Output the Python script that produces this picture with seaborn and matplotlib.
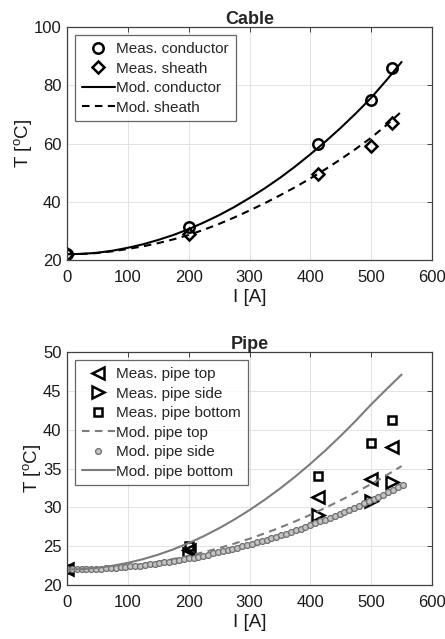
import numpy as np
import pandas as pd
import seaborn as sns
import matplotlib
matplotlib.use("Agg")
import matplotlib.pyplot as plt

# ---- Cable: measurements ----
meas_current = [0, 200, 412, 500, 535]
meas_conductor = [22.0, 31.5, 60.0, 75.0, 86.0]
meas_sheath = [22.0, 29.0, 49.5, 59.3, 67.0]

# ---- Model curves (current grid) ----
mod_current = [0, 25, 50, 75, 100, 125, 150, 175, 200, 225, 250, 275, 300,
               325, 350, 375, 400, 425, 450, 475, 500, 525, 550]
mod_conductor = [22.0, 22.1, 22.5, 23.2, 24.2, 25.4, 26.9, 28.6, 30.6, 32.9,
                 35.4, 38.2, 41.3, 44.6, 48.2, 52.1, 56.3, 60.7, 65.4, 70.4,
                 75.7, 81.7, 88.0]
mod_sheath = [22.0, 22.1, 22.4, 23.0, 23.8, 24.7, 25.8, 27.1, 28.6, 30.4,
              32.4, 34.6, 37.0, 39.5, 42.2, 45.0, 48.0, 51.2, 54.6, 58.2,
              62.0, 66.3, 71.0]

# ---- Pipe: measurements ----
meas_pipe_top = [22.0, 24.5, 31.3, 33.7, 37.8]
meas_pipe_side = [22.0, 24.0, 29.0, 30.8, 33.3]
meas_pipe_bottom = [22.0, 25.0, 34.0, 38.3, 41.3]

# ---- Pipe: model curves ----
mod_pipe_top = [22.0, 22.03, 22.11, 22.25, 22.44, 22.69, 22.99, 23.35, 23.76,
                24.23, 24.75, 25.33, 25.96, 26.65, 27.39, 28.19, 29.04, 29.95,
                30.91, 31.93, 33.00, 34.13, 35.31]
mod_pipe_bottom = [22.0, 22.05, 22.21, 22.48, 22.85, 23.33, 23.91, 24.60, 25.40,
                   26.30, 27.31, 28.43, 29.65, 30.98, 32.41, 33.95, 35.60, 37.35,
                   39.21, 41.18, 43.25, 45.20, 47.10]
side_current = [0, 8, 16, 24, 32, 40, 48, 56, 64, 72, 80, 88, 96, 104, 112, 120,
                128, 136, 144, 152, 160, 168, 176, 184, 192, 200, 208, 216, 224,
                232, 240, 248, 256, 264, 272, 280, 288, 296, 304, 312, 320, 328,
                336, 344, 352, 360, 368, 376, 384, 392, 400, 408, 416, 424, 432,
                440, 448, 456, 464, 472, 480, 488, 496, 504, 512, 520, 528, 536,
                544, 552]
mod_pipe_side = [22.00, 22.00, 22.01, 22.02, 22.04, 22.06, 22.08, 22.11, 22.15,
                 22.19, 22.23, 22.28, 22.33, 22.39, 22.45, 22.51, 22.58, 22.66,
                 22.74, 22.82, 22.91, 23.01, 23.11, 23.21, 23.32, 23.43, 23.54,
                 23.67, 23.79, 23.92, 24.06, 24.20, 24.34, 24.49, 24.64, 24.80,
                 24.96, 25.13, 25.30, 25.48, 25.66, 25.84, 26.03, 26.22, 26.42,
                 26.63, 26.83, 27.05, 27.26, 27.49, 27.71, 27.94, 28.18, 28.42,
                 28.66, 28.91, 29.16, 29.42, 29.69, 29.95, 30.23, 30.50, 30.78,
                 31.07, 31.36, 31.65, 31.95, 32.26, 32.57, 32.88]

x_ticks = [0, 100, 200, 300, 400, 500, 600]
cable_yticks = [20, 40, 60, 80, 100]
pipe_yticks = [20, 25, 30, 35, 40, 45, 50]

sns.set_style("white")
plt.rcParams["font.family"] = ["Liberation Sans", "DejaVu Sans"]
plt.rcParams["mathtext.fontset"] = "custom"
plt.rcParams["mathtext.rm"] = "Liberation Sans"
plt.rcParams["mathtext.it"] = "Liberation Sans:italic"

GRAY = "#7c7c7c"
AXC = "#404040"
DASH = (0, (3.6, 2.6))

fig = plt.figure(figsize=(4.45, 6.39), dpi=100)
ax1 = fig.add_axes([0.1506, 0.5931, 0.8202, 0.3646])
ax2 = fig.add_axes([0.1506, 0.0845, 0.8202, 0.3646])

cable_meas = pd.DataFrame({"I": meas_current, "cond": meas_conductor, "sheath": meas_sheath})
cable_mod = pd.DataFrame({"I": mod_current, "cond": mod_conductor, "sheath": mod_sheath})
pipe_meas = pd.DataFrame({"I": meas_current, "top": meas_pipe_top,
                          "side": meas_pipe_side, "bottom": meas_pipe_bottom})
pipe_mod = pd.DataFrame({"I": mod_current, "top": mod_pipe_top, "bottom": mod_pipe_bottom})
pipe_side = pd.DataFrame({"I": side_current, "side": mod_pipe_side})

open_marker = dict(linestyle="", markerfacecolor="none", markeredgecolor="black",
                   markeredgewidth=1.8, color="black")

# Cable panel
sns.lineplot(data=cable_meas, x="I", y="cond", ax=ax1, marker="o", markersize=7.5,
             label="Meas. conductor", **open_marker)
sns.lineplot(data=cable_meas, x="I", y="sheath", ax=ax1, marker="D", markersize=6,
             label="Meas. sheath", **open_marker)
sns.lineplot(data=cable_mod, x="I", y="cond", ax=ax1, color="black", linewidth=1.5,
             label="Mod. conductor")
sns.lineplot(data=cable_mod, x="I", y="sheath", ax=ax1, color="black", linewidth=1.5,
             dashes=False, linestyle=DASH, label="Mod. sheath")

# Pipe panel
sns.lineplot(data=pipe_meas, x="I", y="top", ax=ax2, marker="<", markersize=8,
             label="Meas. pipe top", **open_marker)
sns.lineplot(data=pipe_meas, x="I", y="side", ax=ax2, marker=">", markersize=8,
             label="Meas. pipe side", **open_marker)
sns.lineplot(data=pipe_meas, x="I", y="bottom", ax=ax2, marker="s", markersize=6,
             label="Meas. pipe bottom", **open_marker)
sns.lineplot(data=pipe_mod, x="I", y="top", ax=ax2, color=GRAY, linewidth=1.5,
             dashes=False, linestyle=DASH, label="Mod. pipe top")
sns.lineplot(data=pipe_side, x="I", y="side", ax=ax2, linestyle="", color=GRAY,
             marker="o", markersize=4.2, markerfacecolor="#c4c4c4",
             markeredgecolor="#6e6e6e", markeredgewidth=0.9, label="Mod. pipe side")
sns.lineplot(data=pipe_mod, x="I", y="bottom", ax=ax2, color=GRAY, linewidth=1.5,
             label="Mod. pipe bottom")

for ax, title, yt in [(ax1, "Cable", cable_yticks), (ax2, "Pipe", pipe_yticks)]:
    ax.set_xlim(0, 600)
    ax.set_ylim(yt[0], yt[-1])
    ax.set_xticks(x_ticks)
    ax.set_yticks(yt)
    ax.grid(True, color="#e2e2e2", linewidth=0.7)
    ax.set_axisbelow(True)
    for s in ax.spines.values():
        s.set_color(AXC)
        s.set_linewidth(0.9)
        s.set_visible(True)
    ax.tick_params(direction="in", length=3.5, width=0.7, color=AXC,
                   top=True, right=True, labelsize=12, labelcolor="#1a1a1a")
    ax.tick_params(axis="x", pad=7)
    ax.tick_params(axis="y", pad=4)
    ax.set_xlabel("I [A]", fontsize=13.5, labelpad=3, color="#1a1a1a")
    ax.set_ylabel(r"T [$^{\mathrm{o}}$C]", fontsize=13.5, labelpad=0, color="#1a1a1a")
    ax.set_title(title, fontsize=13, fontweight="bold", pad=2)
    leg = ax.legend(loc="upper left", bbox_to_anchor=(0.022, 0.965), fontsize=11,
                    frameon=True, fancybox=False, edgecolor=AXC,
                    handlelength=2.15, handletextpad=0.1, borderpad=0.45,
                    labelspacing=0.36, borderaxespad=0.0)
    leg.get_frame().set_linewidth(0.9)

fig.savefig("out.png", dpi=100, facecolor="white")
